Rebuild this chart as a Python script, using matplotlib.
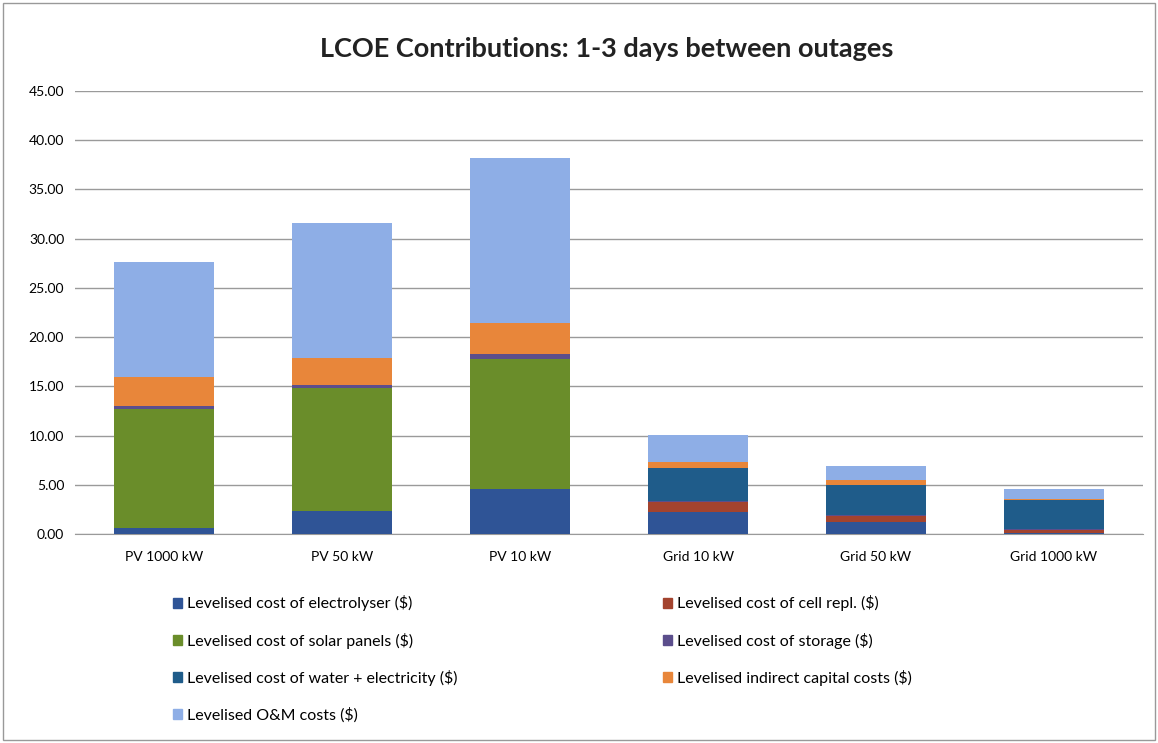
import numpy as np
import matplotlib
matplotlib.use("Agg")
import matplotlib.pyplot as plt
from matplotlib.patches import Patch
from matplotlib.ticker import FormatStrFormatter

plt.rcParams['font.family'] = ['Lato', 'DejaVu Sans']

categories = ["PV 1000 kW", "PV 50 kW", "PV 10 kW", "Grid 10 kW", "Grid 50 kW", "Grid 1000 kW"]

# stacked components, bottom to top
electrolyser = [0.6, 2.4, 4.6, 2.3, 1.2, 0.1]
cell_repl = [0.0, 0.0, 0.0, 1.0, 0.6, 0.3]
solar_panels = [12.1, 12.4, 13.2, 0.0, 0.0, 0.0]
storage = [0.3, 0.3, 0.5, 0.1, 0.1, 0.1]
water_elec = [0.0, 0.0, 0.0, 3.3, 3.1, 3.0]
indirect = [3.0, 2.8, 3.1, 0.6, 0.5, 0.1]
om_costs = [11.6, 13.7, 16.8, 2.8, 1.4, 1.0]

series = [
    ("Levelised cost of electrolyser ($)", electrolyser, "#2F5496"),
    ("Levelised cost of cell repl. ($)", cell_repl, "#A3432E"),
    ("Levelised cost of solar panels ($)", solar_panels, "#6A8D2A"),
    ("Levelised cost of storage ($)", storage, "#5B4E8C"),
    ("Levelised cost of water + electricity ($)", water_elec, "#1F5C8A"),
    ("Levelised indirect capital costs ($)", indirect, "#E8863A"),
    ("Levelised O&M costs ($)", om_costs, "#8EAEE6"),
]

fig = plt.figure(figsize=(11.58, 7.43), dpi=100)
ax = fig.add_axes([0.065, 0.281, 0.922, 0.597])

x = np.arange(len(categories))
bottom = np.zeros(len(categories))
handles = []
for label, vals, col in series:
    vals = np.array(vals)
    ax.bar(x, vals, width=0.56, bottom=bottom, color=col, zorder=3)
    bottom += vals
    handles.append(Patch(color=col, label=label))

ax.set_ylim(0, 45)
ax.set_xlim(-0.5, len(categories) - 0.5)
ax.set_yticks(np.arange(0, 46, 5))
ax.yaxis.set_major_formatter(FormatStrFormatter('%.2f'))
ax.grid(axis='y', color='#9a9a9a', linewidth=1, zorder=0)
ax.set_xticks(x)
ax.set_xticklabels(categories, fontsize=10)
ax.tick_params(axis='y', labelsize=10, length=0, pad=8)
ax.tick_params(axis='x', length=0, pad=12)
for s in ['top', 'right', 'left']:
    ax.spines[s].set_visible(False)
ax.spines['bottom'].set_color('#9a9a9a')

fig.text(0.524, 0.934, "LCOE Contributions: 1-3 days between outages",
         ha='center', va='center', fontsize=19.5, fontweight='bold', color='#222222')

# row-major legend order emulated with column-major fill
order = [0, 2, 4, 6, 1, 3, 5]
leg = fig.legend([handles[i] for i in order], [handles[i].get_label() for i in order],
                 ncol=2, loc='upper left', bbox_to_anchor=(0.137, 0.218),
                 frameon=False, fontsize=11.5, handlelength=0.55, handleheight=0.55,
                 handletextpad=0.3, labelspacing=1.33, columnspacing=12.9)

# outer border
fig.patches.append(plt.Rectangle((0.003, 0.004), 0.994, 0.992, transform=fig.transFigure,
                                 fill=False, edgecolor='#999999', linewidth=1))

fig.savefig("out.png", dpi=100)
